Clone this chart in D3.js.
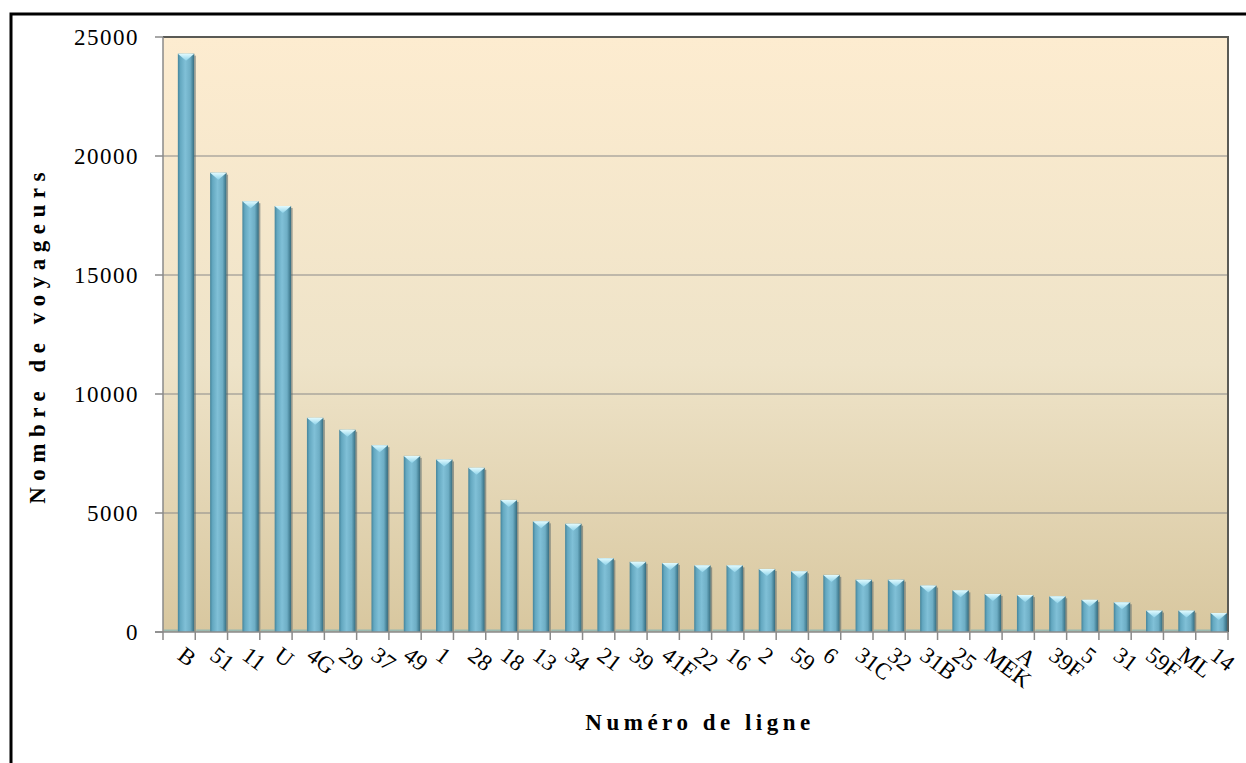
<!DOCTYPE html>
<html><head><meta charset="utf-8">
<script src="https://cdn.jsdelivr.net/npm/d3@7"></script>
<style>body{margin:0;background:#fff}svg{display:block}</style>
</head><body>
<svg id="c" width="1246" height="763"></svg>
<script>
const categories = ["B","51","11","U","4G","29","37","49","1","28","18","13","34","21","39","41F","22","16","2","59","6","31C","32","31B","25","MEK","A","39F","5","31","59F","ML","14"];
const voyageurs = [24300,19300,18100,17900,9000,8500,7850,7400,7250,6900,5550,4650,4550,3100,2950,2900,2800,2800,2650,2550,2400,2200,2200,1950,1750,1600,1550,1500,1350,1250,900,900,800];
const yTicks = [0,5000,10000,15000,20000,25000];
const yTitle = "Nombre de voyageurs";
const xTitle = "Numéro de ligne";

const svg = d3.select("#c");
const m = {left:163, right:1228, top:37, bottom:632};
const x = d3.scaleBand().domain(categories).range([m.left, m.right]).padding(0);
const y = d3.scaleLinear().domain([0,25000]).range([m.bottom, m.top]);
const serif = "Liberation Serif, Times New Roman, serif";

const defs = svg.append("defs");
const bg = defs.append("linearGradient").attr("id","bg").attr("x1",0).attr("y1",0).attr("x2",0).attr("y2",1);
bg.append("stop").attr("offset","0%").attr("stop-color","#fdecd0");
bg.append("stop").attr("offset","55%").attr("stop-color","#eee3c8");
bg.append("stop").attr("offset","100%").attr("stop-color","#d8c79f");
const bar = defs.append("linearGradient").attr("id","bar").attr("x1",0).attr("y1",0).attr("x2",1).attr("y2",0);
[["0%","#44849b"],["15%","#64a8c0"],["45%","#80c0d7"],["75%","#6eaec5"],["90%","#4a869b"],["100%","#376a7c"]]
  .forEach(s=>bar.append("stop").attr("offset",s[0]).attr("stop-color",s[1]));
const tri = defs.append("linearGradient").attr("id","tri").attr("x1",0).attr("y1",0).attr("x2",0).attr("y2",1);
tri.append("stop").attr("offset","0%").attr("stop-color","#e2fbff");
tri.append("stop").attr("offset","100%").attr("stop-color","#8fd3ea");

// outer frame
svg.append("rect").attr("x",11).attr("y",14).attr("width",1260).attr("height",780)
  .attr("fill","none").attr("stroke","#000").attr("stroke-width",3);

// plot background
svg.append("rect").attr("x",m.left).attr("y",m.top).attr("width",m.right-m.left).attr("height",m.bottom-m.top)
  .attr("fill","url(#bg)");

// gridlines
svg.append("g").selectAll("line").data(yTicks.filter(d=>d>0 && d<25000)).join("line")
  .attr("x1",m.left).attr("x2",m.right).attr("y1",d=>y(d)).attr("y2",d=>y(d))
  .attr("stroke","#8a8a8a").attr("stroke-width",1.2);
// top and right border
svg.append("path").attr("d",`M${m.left},${m.top}H${m.right}V${m.bottom}`)
  .attr("fill","none").attr("stroke","#5a5a55").attr("stroke-width",2);

// bars
const bw = x.bandwidth();
const g = svg.append("g");
const bx = d => x(d) + bw*0.46;
const bwid = bw*0.51;
// floor shadow
g.selectAll("rect.sh").data(categories).join("rect").attr("class","sh")
  .attr("x",d=>bx(d)-bw*0.43).attr("y",m.bottom-2.5).attr("width",bw*0.43).attr("height",2)
  .attr("fill","#7fb3b8").attr("opacity",0.7);
g.selectAll("rect.b").data(categories).join("rect").attr("class","b")
  .attr("x",bx).attr("y",(d,i)=>y(voyageurs[i])).attr("width",bwid)
  .attr("height",(d,i)=>m.bottom-y(voyageurs[i])).attr("fill","url(#bar)");
g.selectAll("rect.e").data(categories).join("rect").attr("class","e")
  .attr("x",d=>bx(d)+bwid).attr("y",(d,i)=>y(voyageurs[i])+2).attr("width",1.5)
  .attr("height",(d,i)=>Math.max(0,m.bottom-y(voyageurs[i])-2)).attr("fill","#5d6a6d").attr("opacity",0.6);
g.selectAll("path.t").data(categories).join("path").attr("class","t")
  .attr("d",(d,i)=>{const x0=bx(d), y0=y(voyageurs[i]); return `M${x0},${y0}H${x0+bwid}L${x0+bwid/2},${y0+7}Z`;})
  .attr("fill","url(#tri)");

// axes lines
svg.append("line").attr("x1",m.left).attr("x2",m.left).attr("y1",m.top).attr("y2",m.bottom)
  .attr("stroke","#8a8a8a").attr("stroke-width",1.5);
svg.append("line").attr("x1",155).attr("x2",m.right).attr("y1",m.bottom).attr("y2",m.bottom)
  .attr("stroke","#8a8a8a").attr("stroke-width",1.5);
// y ticks
svg.append("g").selectAll("line").data(yTicks).join("line")
  .attr("x1",155).attr("x2",m.left).attr("y1",d=>y(d)).attr("y2",d=>y(d))
  .attr("stroke","#8a8a8a").attr("stroke-width",1.5);
svg.append("g").selectAll("text").data(yTicks).join("text")
  .attr("x",139).attr("y",d=>y(d)).attr("dy","0.35em").attr("text-anchor","end")
  .attr("font-family",serif).attr("font-size",23)
  .attr("letter-spacing","1.5px").text(d=>d);
// x ticks
const tickPos = categories.map(c=>x(c)).concat([m.right]);
svg.append("g").selectAll("line").data(tickPos).join("line")
  .attr("x1",d=>d).attr("x2",d=>d).attr("y1",m.bottom).attr("y2",m.bottom+8)
  .attr("stroke","#8a8a8a").attr("stroke-width",1.5);
svg.append("g").selectAll("text").data(categories).join("text")
  .attr("transform",d=>`translate(${x(d)+bw/2+7},${645}) rotate(37)`)
  .attr("dy","0.72em")
  .attr("font-family",serif).attr("font-size",23)
  .text(d=>d);

// titles
svg.append("text").attr("transform","translate(45,335) rotate(-90)").attr("text-anchor","middle")
  .attr("font-family",serif).attr("font-size",23).attr("font-weight","bold")
  .attr("letter-spacing","6.5px").text(yTitle);
svg.append("text").attr("x",700).attr("y",730).attr("text-anchor","middle")
  .attr("font-family",serif).attr("font-size",23).attr("font-weight","bold")
  .attr("letter-spacing","4.5px").text(xTitle);
</script>
</body></html>
